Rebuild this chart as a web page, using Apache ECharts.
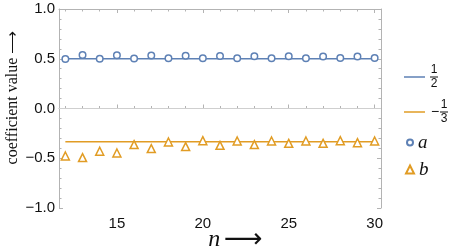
<!DOCTYPE html>
<html>
<head>
<meta charset="utf-8">
<script src="https://cdn.jsdelivr.net/npm/echarts@6/dist/echarts.min.js"></script>
<style>html,body{margin:0;padding:0;background:#fff;}#c{width:454px;height:249px;}</style>
</head>
<body>
<div id="c"></div>
<script>
const nValues = [12,13,14,15,16,17,18,19,20,21,22,23,24,25,26,27,28,29,30];
const aValues = [0.497,0.537,0.499,0.535,0.503,0.532,0.504,0.530,0.505,0.528,0.506,0.526,0.506,0.524,0.506,0.523,0.507,0.522,0.507];
const bValues = [-0.477,-0.493,-0.430,-0.447,-0.363,-0.403,-0.337,-0.383,-0.323,-0.370,-0.327,-0.363,-0.327,-0.350,-0.327,-0.350,-0.323,-0.343,-0.327];
const halfLine = [[12,0.5],[30,0.5]];
const thirdLine = [[12,-1/3],[30,-1/3]];
const xMajorTicks = [15,20,25,30];
const xMinorTicks = nValues;
const yTickLabels = {'1':'1.0','0.5':'0.5','0':'0.0','-0.5':'\u22120.5','-1':'\u22121.0'};

const BLUE = '#5E81B5', ORANGE = '#E19C24', FRAME = '#b3b3b3';
const XMIN = 11.63, XMAX = 30.37;

function xAxisDef(pos, ticks, len, showLabel, showLine) {
  return {
    type: 'value', position: pos, min: XMIN, max: XMAX,
    axisLine: {show: showLine, lineStyle: {color: FRAME, width: 1}},
    axisTick: {show: true, inside: true, length: len, customValues: ticks, lineStyle: {color: FRAME}},
    axisLabel: {show: showLabel, customValues: xMajorTicks, color: '#111', fontSize: 15, margin: 8, fontFamily: 'Liberation Sans'},
    splitLine: {show: false}
  };
}
function yAxisDef(pos, showLabel) {
  return {
    type: 'value', position: pos, min: -1, max: 1, interval: 0.5,
    axisLine: {show: true, lineStyle: {color: FRAME, width: 1}},
    axisTick: {show: true, inside: true, length: 4, lineStyle: {color: FRAME}},
    minorTick: {show: true, splitNumber: 5, length: 2.5, lineStyle: {color: FRAME}},
    axisLabel: {show: showLabel, color: '#111', fontSize: 15, margin: 4, fontFamily: 'Liberation Sans',
      formatter: v => yTickLabels[String(v)] || ''},
    splitLine: {show: false}
  };
}

const chart = echarts.init(document.getElementById('c'));
const xa0 = xAxisDef('bottom', xMajorTicks, 4, true, true);
xa0.name = '{n|n}{s| }{a|\u27F6}';
xa0.nameLocation = 'middle';
xa0.nameGap = 18;
xa0.nameMoveOverlap = false;
xa0.nameTextStyle = {padding: [0,0,0,31], rich: {
  n: {fontFamily: 'Liberation Serif', fontStyle: 'italic', fontSize: 24, color: '#111'},
  s: {fontSize: 14},
  a: {fontFamily: 'DejaVu Sans', fontSize: 27, color: '#111'}
}};
const ya0 = yAxisDef('left', true);
ya0.name = 'coefficient value \u27F6';
ya0.nameLocation = 'middle';
ya0.nameGap = 38;
ya0.nameMoveOverlap = false;
ya0.nameTextStyle = {fontFamily: 'Liberation Serif', fontSize: 16, color: '#111', padding: [0,0,0,22]};

const fracRich = {
  n: {fontSize: 12, lineHeight: 11, width: 8, align: 'center', color: '#111', fontFamily: 'Liberation Sans'},
  d: {fontSize: 12, lineHeight: 11, width: 8, align: 'center', color: '#111', fontFamily: 'Liberation Sans'},
  bar: {fontSize: 1, width: 6, height: 1, lineHeight: 3, backgroundColor: '#111', padding: [0,1]},
  m: {fontSize: 14, lineHeight: 3, width: 10, align: 'center', color: '#111', fontFamily: 'Liberation Sans'},
  s: {fontSize: 10, lineHeight: 11, width: 10}
};
const letterStyle = {fontFamily: 'Liberation Serif', fontStyle: 'italic', fontSize: 19, color: '#111'};

chart.setOption({
  animation: false,
  grid: {left: 59, right: 73, top: 9, bottom: 41, containLabel: false, outerBoundsMode: 'none'},
  xAxis: [
    xa0,
    xAxisDef('bottom', xMinorTicks, 2.5, false, false),
    xAxisDef('top', xMajorTicks, 4, false, true),
    xAxisDef('top', xMinorTicks, 2.5, false, false)
  ],
  yAxis: [ya0, yAxisDef('right', false)],
  legend: [
    {data: [{name: '1/2', icon: 'rect'}], left: 399, top: 59, itemWidth: 21, itemHeight: 1.5, itemGap: 0,
      formatter: () => '{n|1}\n{bar| }\n{d|2}', textStyle: {rich: fracRich}},
    {data: [{name: '-1/3', icon: 'rect'}], left: 399, top: 94, itemWidth: 21, itemHeight: 1.5, itemGap: 0,
      formatter: () => '{s| }{n|1}\n{m|\u2212}{bar| }\n{s| }{d|3}', textStyle: {rich: fracRich}},
    {data: ['a'], left: 401, top: 128, itemWidth: 6, itemHeight: 6, itemGap: 0, textStyle: letterStyle},
    {data: ['b'], left: 400, top: 155, itemWidth: 8, itemHeight: 8, itemGap: 0, textStyle: letterStyle}
  ],
  series: [
    {name: '1/2', type: 'line', data: halfLine, symbol: 'none', lineStyle: {color: BLUE, width: 1.5}, itemStyle: {color: BLUE}, z: 2,
      markLine: {silent: true, symbol: 'none', label: {show: false}, lineStyle: {color: '#cfcfcf', width: 1, type: 'solid'}, data: [{yAxis: 0}]}},
    {name: '-1/3', type: 'line', data: thirdLine, symbol: 'none', lineStyle: {color: ORANGE, width: 1.5}, itemStyle: {color: ORANGE}, z: 2},
    {name: 'a', type: 'scatter', data: nValues.map((n,i) => [n, aValues[i]]), symbol: 'circle', symbolSize: 6.5,
      itemStyle: {color: '#fff', borderColor: BLUE, borderWidth: 1.5, opacity: 1}, z: 3},
    {name: 'b', type: 'scatter', data: nValues.map((n,i) => [n, bValues[i]]), symbol: 'triangle', symbolSize: 8,
      itemStyle: {color: '#fff', borderColor: ORANGE, borderWidth: 1.5, opacity: 1}, z: 3}
  ]
});
</script>
</body>
</html>
